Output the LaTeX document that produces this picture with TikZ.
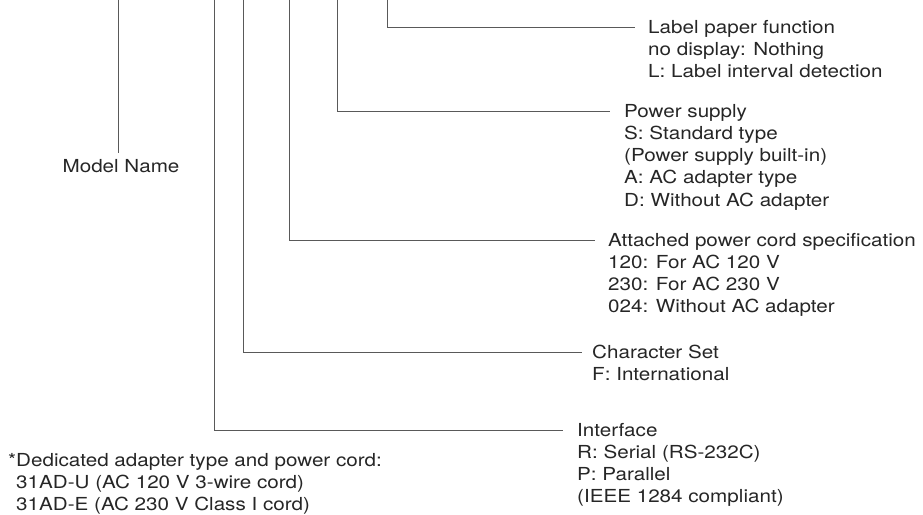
\documentclass[tikz,border=0pt]{standalone}
\usepackage{fontspec}
\setmainfont[FakeStretch=1.15]{TeX Gyre Heros}
\usepackage{tikz}
\usetikzlibrary{positioning,calc}
\tikzset{
    lead/.style={
        draw=black!65,
        line width=0.9pt,
    },
    Mytext/.style={
        align=left,
        inner sep=0pt,
        anchor=north west,
        text=black!85,
        font=\fontsize{18}{22.3}\selectfont,
    },
}

\begin{document}
\begin{tikzpicture}[
    x=1bp,
    y=-1bp]
\useasboundingbox (0,0) rectangle (923,515);

% leads from the top edge
\coordinate (m_top) at (118,0);
\coordinate (i_top) at (214,0);
\coordinate (c_top) at (243,0);
\coordinate (p_top) at (289,0);
\coordinate (s_top) at (337,0);
\coordinate (l_top) at (387,0);

% ends of the leads
\coordinate (m_end) at (118,153);
\coordinate (l_end) at (635,27);
\coordinate (s_end) at (610,111);
\coordinate (p_end) at (595,240);
\coordinate (c_end) at (582,352);
\coordinate (i_end) at (563,430);

% Model Name
\node [Mytext, anchor=center] (m_lab) at (121,166) {Model Name};
% Label paper function
\node [Mytext] (l_lab) at ($(l_end)+(13,-7)$)
{
    Label paper function\\
    no display: Nothing\\
    L: Label interval detection
};
% Power supply
\node [Mytext] (s_lab) at ($(s_end)+(14,-7)$)
{
    Power supply\\
    S: Standard type\\
    (Power supply built-in)\\
    A: AC adapter type\\
    D: Without AC adapter
};
% Power cord
\node [Mytext] (p_lab) at ($(p_end)+(13,-7)$)
{
    Attached power cord specification\\
    120: For AC 120 V\\
    230: For AC 230 V\\
    024: Without AC adapter
};
% Character set
\node [Mytext] (c_lab) at ($(c_end)+(10,-7)$)
{
    Character Set\\
    F: International
};
% Interface
\node [Mytext] (i_lab) at ($(i_end)+(14,-7)$)
{
    Interface\\
    R: Serial (RS-232C)\\
    P: Parallel\\
    (IEEE 1284 compliant)
};
% Footnote
\node [Mytext] (note) at (8,453)
{
    *Dedicated adapter type and power cord:\\
    \phantom{*}31AD-U (AC 120 V 3-wire cord)\\
    \phantom{*}31AD-E (AC 230 V Class I cord)
};

% Leads
\draw [lead] (m_top) -- (m_end);
\draw [lead] (l_top) |- (l_end);
\draw [lead] (s_top) |- (s_end);
\draw [lead] (p_top) |- (p_end);
\draw [lead] (c_top) |- (c_end);
\draw [lead] (i_top) |- (i_end);

\end{tikzpicture}
\end{document}
